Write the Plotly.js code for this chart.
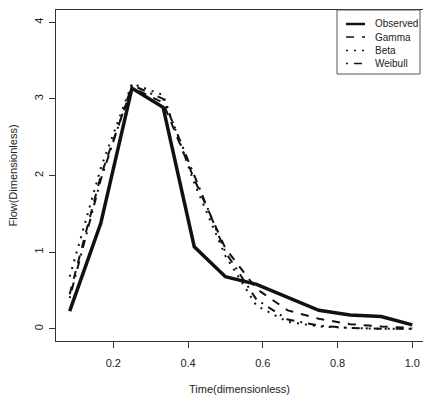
<!DOCTYPE html>
<html>
<head>
<meta charset="utf-8">
<script src="https://cdn.plot.ly/plotly-3.0.1.min.js"></script>
<style>html,body{margin:0;padding:0;overflow:hidden;background:#fff}</style>
</head>
<body>
<div id="chart" style="width:423px;height:395px"></div>
<script>
// Time (dimensionless), 12 equal steps
const time = [0.0833, 0.1667, 0.25, 0.3333, 0.4167, 0.5, 0.5833, 0.6667, 0.75, 0.8333, 0.9167, 1.0];
const observed = [0.23, 1.38, 3.14, 2.89, 1.07, 0.68, 0.58, 0.41, 0.24, 0.18, 0.16, 0.05];
const gamma    = [0.45, 2.00, 3.15, 2.95, 1.95, 1.05, 0.52, 0.24, 0.13, 0.06, 0.03, 0.01];
const beta     = [0.68, 2.10, 3.20, 3.05, 1.90, 0.95, 0.30, 0.09, 0.03, 0.01, 0.00, 0.00];
const weibull  = [0.40, 1.95, 3.18, 3.00, 2.00, 1.00, 0.38, 0.12, 0.04, 0.01, 0.00, 0.00];
const seriesNames = ["Observed", "Gamma", "Beta", "Weibull"];
const xTicks = [0.2, 0.4, 0.6, 0.8, 1.0];
const yTicks = [0, 1, 2, 3, 4];

const fam = "Liberation Sans, Arial, sans-serif";
const font = {family: fam, size: 11, color: "#222"};
const ink = "#111";
const styles = [
  {color: ink, width: 3.5, dash: "solid"},
  {color: ink, width: 2, dash: "8px,8px"},
  {color: ink, width: 2, dash: "2px,6px"},
  {color: ink, width: 2, dash: "2px,6px,8px,6px"}
];
const seriesY = [observed, gamma, beta, weibull];
const traces = seriesY.map((ys, i) => ({
  x: time, y: ys, name: seriesNames[i], mode: "lines", line: styles[i], showlegend: false
}));

// legend box drawn in paper coordinates (plot area: 56..423 px, 10..341 px)
const L = 56, W = 367, B = 341, H = 331;
const px = v => (v - L) / W;
const py = v => (B - v) / H;
const shapes = [
  {type: "rect", xref: "paper", yref: "paper", x0: px(337), x1: px(420), y0: py(74), y1: py(10),
   line: {color: "#555", width: 1}, fillcolor: "#fff", layer: "above"}
];
const annotations = [];
const rowY = [24, 37, 50.5, 63.5];
seriesNames.forEach((n, i) => {
  const st = Object.assign({}, styles[i]);
  st.width = i === 0 ? 2.5 : 1.5;
  shapes.push({type: "line", xref: "paper", yref: "paper", x0: px(346), x1: px(365),
    y0: py(rowY[i]), y1: py(rowY[i]), line: st, layer: "above"});
  annotations.push({xref: "paper", yref: "paper", x: px(373), y: py(rowY[i]), xanchor: "left", yanchor: "middle",
    text: n, showarrow: false, font: {family: fam, size: 10, color: "#222"}});
});

const layout = {
  width: 423, height: 395,
  margin: {l: 56, r: 0, t: 10, b: 54, pad: 0},
  paper_bgcolor: "#fff", plot_bgcolor: "#fff",
  font: font,
  showlegend: false,
  shapes: shapes,
  annotations: annotations,
  xaxis: {
    range: [0.0467, 1.0286], tickvals: xTicks, ticktext: xTicks.map(v => v.toFixed(1)),
    showgrid: false, zeroline: false, showline: true, mirror: true, linecolor: "#333", linewidth: 1,
    ticks: "outside", ticklen: 6, tickcolor: "#333", ticklabelstandoff: 6,
    title: {text: "Time(dimensionless)", font: {family: fam, size: 11, color: "#222"}, standoff: 17}
  },
  yaxis: {
    range: [-0.16, 4.16], tickvals: yTicks, ticktext: yTicks.map(String), tickangle: -90,
    showgrid: false, zeroline: false, showline: true, mirror: false, linecolor: "#333", linewidth: 1,
    ticks: "outside", ticklen: 6, tickcolor: "#333", ticklabelstandoff: 2,
    title: {text: "Flow(Dimensionless)", font: {family: fam, size: 11, color: "#222"}, standoff: 12}
  }
};
Plotly.newPlot("chart", traces, layout, {displayModeBar: false, staticPlot: true});
</script>
</body>
</html>
